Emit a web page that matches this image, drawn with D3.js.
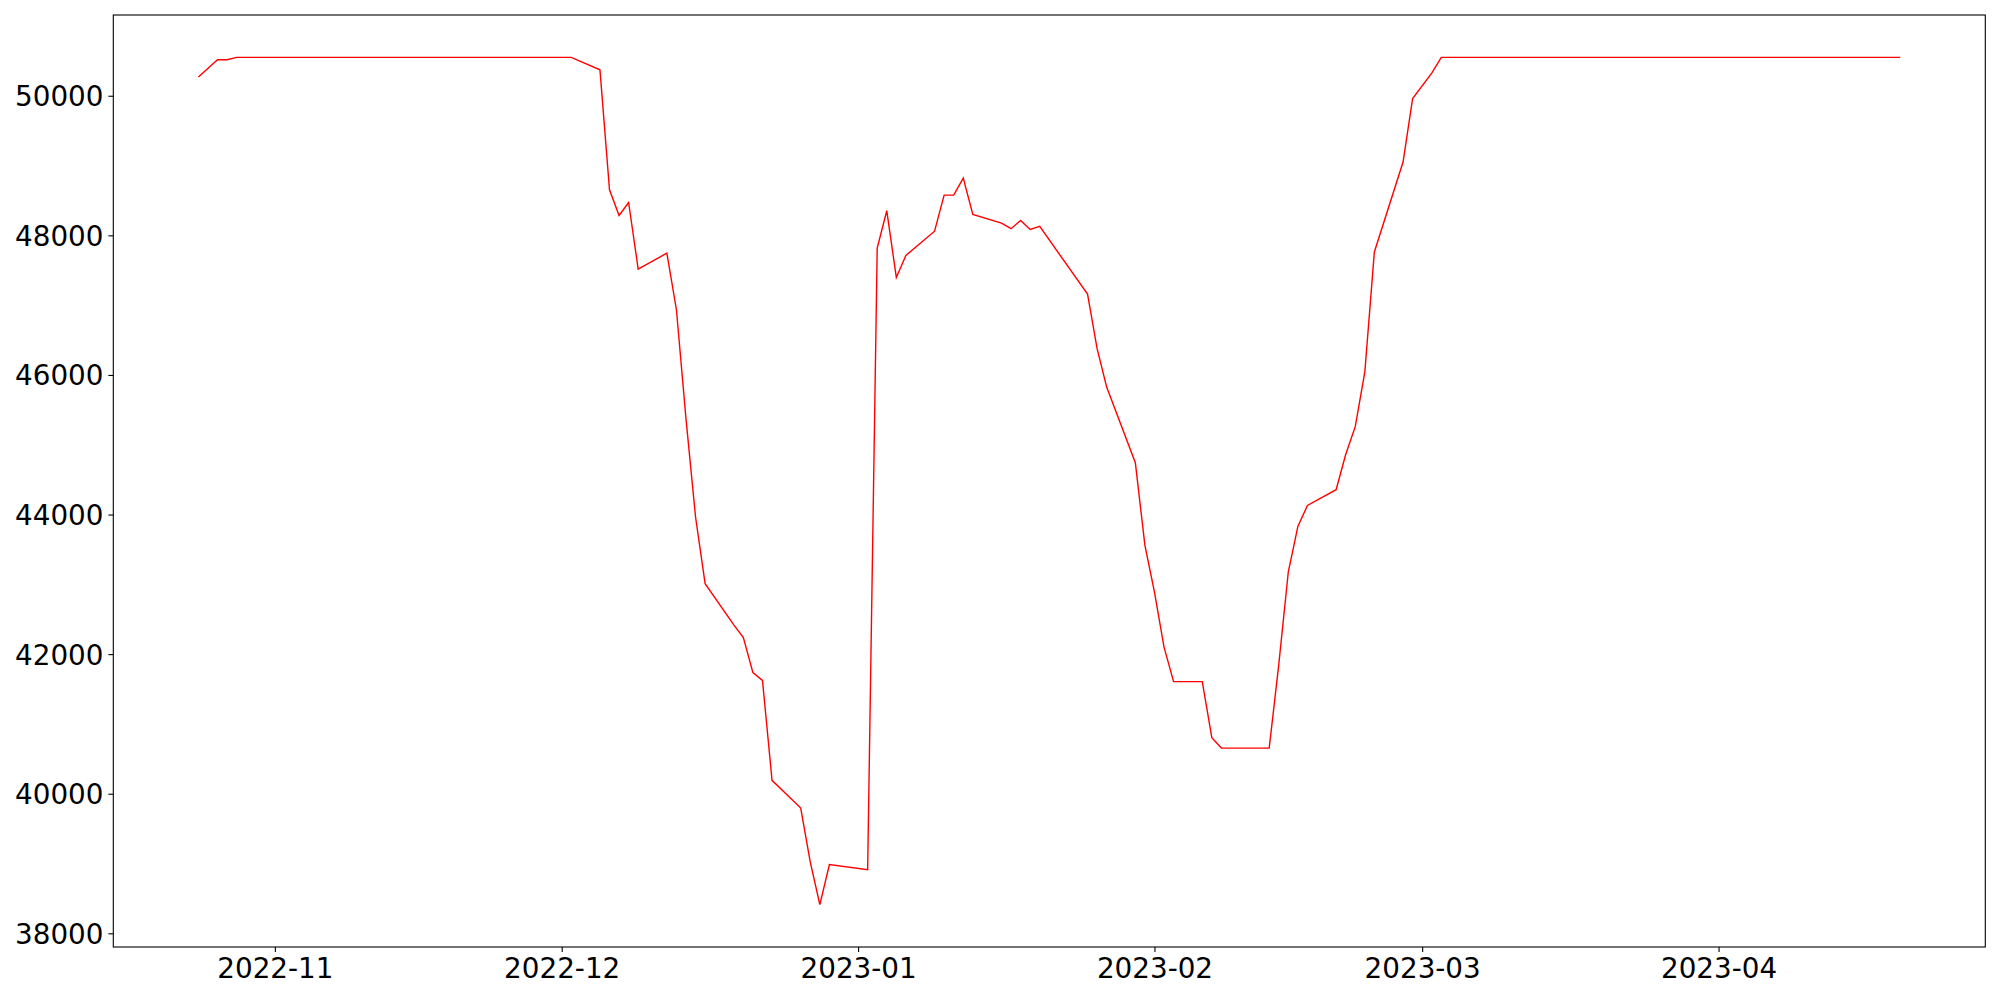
<!DOCTYPE html>
<html lang="en">

<head>
  <meta charset="UTF-8" />
  <title>Price line</title>
  <style>
    body {
      margin: 0;
      background: #fff;
    }

    .data-line {
      fill: none;
      stroke: red;
      stroke-width: 1.4px;
    }

    .tick text {
      font-family: "DejaVu Sans", sans-serif;
      font-size: 27.8px;
      fill: #000;
    }

    .tick line {
      stroke: #000;
      stroke-width: 1.1px;
    }
  </style>
</head>

<body>

  <script src="https://cdn.jsdelivr.net/npm/d3@7"></script>
  <script>
    // values
    var dates = [
      "2022-10-24", "2022-10-26", "2022-10-27", "2022-10-28", "2022-12-02",
      "2022-12-05", "2022-12-06", "2022-12-07", "2022-12-08", "2022-12-09",
      "2022-12-12", "2022-12-13", "2022-12-14", "2022-12-15", "2022-12-16",
      "2022-12-19", "2022-12-20", "2022-12-21", "2022-12-22", "2022-12-23",
      "2022-12-26", "2022-12-27", "2022-12-28", "2022-12-29", "2023-01-02",
      "2023-01-03", "2023-01-04", "2023-01-05", "2023-01-06", "2023-01-09",
      "2023-01-10", "2023-01-11", "2023-01-12", "2023-01-13", "2023-01-16",
      "2023-01-17", "2023-01-18", "2023-01-19", "2023-01-20", "2023-01-25",
      "2023-01-26", "2023-01-27", "2023-01-30", "2023-01-31", "2023-02-01",
      "2023-02-02", "2023-02-03", "2023-02-06", "2023-02-07", "2023-02-08",
      "2023-02-13", "2023-02-14", "2023-02-15", "2023-02-16", "2023-02-17",
      "2023-02-20", "2023-02-21", "2023-02-22", "2023-02-23", "2023-02-24",
      "2023-02-27", "2023-02-28", "2023-03-02", "2023-03-03", "2023-04-20"
    ];

    var prices = [
      50270, 50516, 50516, 50550, 50550,
      50372, 48653, 48285, 48471, 47516,
      47745, 46934, 45370, 43965, 43010,
      42420, 42236, 41735, 41624, 40192,
      39795, 39021, 38411, 38984, 38912,
      47817, 48353, 47397, 47712, 48060,
      48576, 48576, 48820, 48300, 48175,
      48095, 48214, 48085, 48128, 47158,
      46376, 45826, 44742, 43558, 42889,
      42101, 41606, 41606, 40803, 40654,
      40654, 41850, 43180, 43830, 44130,
      44356, 44860, 45259, 46039, 47762,
      49050, 49960, 50325, 50550, 50550
    ];

    var yTicks = [38000, 40000, 42000, 44000, 46000, 48000, 50000];
    var xTicks = ["2022-11-01", "2022-12-01", "2023-01-01", "2023-02-01", "2023-03-01", "2023-04-01"];

    var w = 2000;
    var h = 1000;
    var margin = {
      top: 15,
      right: 14.7,
      bottom: 53,
      left: 113.3
    };
    var innerW = w - margin.left - margin.right;
    var innerH = h - margin.top - margin.bottom;

    var parseTime = d3.timeParse("%Y-%m-%d");
    var formatTime = d3.timeFormat("%Y-%m");

    var data = dates.map(function(d, i) {
      return {
        Date: parseTime(d),
        Close: prices[i]
      };
    });

    // 5% padding like the original plot
    var xExt = d3.extent(data, function(d) {
      return d.Date;
    });
    var xPad = (xExt[1] - xExt[0]) * 0.05;
    var yExt = d3.extent(data, function(d) {
      return d.Close;
    });
    var yPad = (yExt[1] - yExt[0]) * 0.05;

    var xScale = d3.scaleTime()
      .domain([new Date(+xExt[0] - xPad), new Date(+xExt[1] + xPad)])
      .range([0, innerW]);

    var yScale = d3.scaleLinear()
      .domain([yExt[0] - yPad, yExt[1] + yPad])
      .range([innerH, 0]);

    var svg = d3.select("body")
      .append("svg")
      .attr("width", w)
      .attr("height", h);

    var g = svg.append("g")
      .attr("transform", "translate(" + margin.left + "," + margin.top + ")");

    var line = d3.line()
      .x(function(d) {
        return xScale(d.Date);
      })
      .y(function(d) {
        return yScale(d.Close);
      });

    g.append("path")
      .datum(data)
      .attr("class", "data-line")
      .attr("d", line);

    var xAxis = d3.axisBottom(xScale)
      .tickValues(xTicks.map(parseTime))
      .tickFormat(formatTime)
      .tickSize(4.9)
      .tickPadding(4.9);

    var yAxis = d3.axisLeft(yScale)
      .tickValues(yTicks)
      .tickFormat(d3.format("d"))
      .tickSize(4.9)
      .tickPadding(4.9);

    var gx = g.append("g")
      .attr("class", "xaxis")
      .attr("transform", "translate(0," + innerH + ")")
      .call(xAxis);
    gx.select(".domain").remove();
    gx.selectAll("text").attr("dy", "0.78em");

    var gy = g.append("g")
      .attr("class", "yaxis")
      .call(yAxis);
    gy.select(".domain").remove();
    gy.selectAll("text").attr("dy", "0.36em");

    // frame
    g.append("rect")
      .attr("width", innerW)
      .attr("height", innerH)
      .attr("fill", "none")
      .attr("stroke", "#000")
      .attr("stroke-width", 1.1);
  </script>

</body>

</html>
